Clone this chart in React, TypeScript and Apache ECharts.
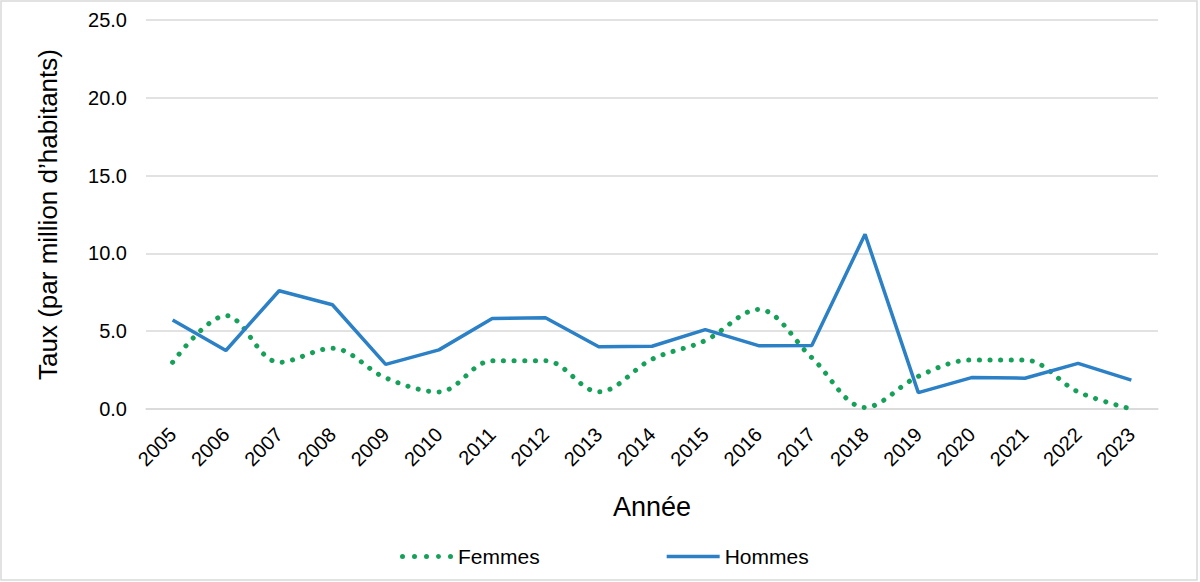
import React, { useEffect, useRef } from "react";
import * as echarts from "echarts";

const years = ["2005","2006","2007","2008","2009","2010","2011","2012","2013","2014","2015","2016","2017","2018","2019","2020","2021","2022","2023"];
const femmes = [3.0, 6.0, 3.0, 3.9, 2.0, 1.1, 3.1, 3.1, 1.1, 3.2, 4.4, 6.4, 3.3, 0.1, 2.1, 3.15, 3.15, 1.1, 0.0];
const hommes = [5.72, 3.76, 7.6, 6.7, 2.87, 3.8, 5.82, 5.86, 4.0, 4.03, 5.1, 4.07, 4.08, 11.23, 1.05, 2.02, 1.98, 2.93, 1.86];
const yTicks = { min: 0, max: 25, interval: 5 };

const GREEN = "#17a05a";
const BLUE = "#2b80c6";
const FONT = "Liberation Sans, Arial, sans-serif";

const dotsIcon =
  "path://" +
  [2.5, 14.5, 26.5, 38.5, 50.5]
    .map((c) => `M${c - 2.5},2.5a2.5,2.5 0 1,0 5,0a2.5,2.5 0 1,0 -5,0Z`)
    .join("");

export default function App() {
  const ref = useRef<HTMLDivElement>(null);
  useEffect(() => {
    if (!ref.current) return;
    const chart = echarts.init(ref.current, null, { renderer: "svg" });
    chart.setOption({
      animation: false,
      backgroundColor: "#ffffff",
      textStyle: { fontFamily: FONT },
      graphic: [
        {
          type: "rect",
          shape: { x: 1, y: 1, width: 1196, height: 579 },
          style: { fill: "none", stroke: "#d9d9d9", lineWidth: 1.5 },
          silent: true,
        },
      ],
      grid: { left: 146, right: 42, top: 20, bottom: 173, containLabel: false },
      legend: {
        top: 541,
        left: 395,
        itemWidth: 53,
        itemHeight: 5,
        itemGap: 127,
        textStyle: { fontSize: 21, color: "#000", fontFamily: FONT },
        data: [
          { name: "Femmes", icon: dotsIcon },
          { name: "Hommes", icon: "path://M0,0.5h53v3.5h-53Z" },
        ],
      },
      xAxis: {
        type: "category",
        data: years,
        boundaryGap: true,
        name: "Année",
        nameLocation: "middle",
        nameGap: 84,
        nameTextStyle: { fontSize: 27, color: "#000", fontFamily: FONT },
        axisLine: { show: true, lineStyle: { color: "#d9d9d9", width: 1.5 } },
        axisTick: { show: false },
        axisLabel: { rotate: 45, fontSize: 20, color: "#000", margin: 22, fontFamily: FONT, interval: 0 },
      },
      yAxis: {
        type: "value",
        min: yTicks.min,
        max: yTicks.max,
        interval: yTicks.interval,
        name: "Taux (par million d’habitants)",
        nameLocation: "middle",
        nameRotate: 90,
        nameGap: 85,
        nameTextStyle: { fontSize: 26, color: "#000", fontFamily: FONT },
        axisLine: { show: false },
        axisTick: { show: false },
        axisLabel: {
          fontSize: 20,
          color: "#000",
          margin: 19,
          fontFamily: FONT,
          formatter: (v: number) => v.toFixed(1),
        },
        splitLine: { lineStyle: { color: "#d9d9d9", width: 1.5 } },
      },
      series: [
        {
          name: "Femmes",
          type: "line",
          data: femmes,
          smooth: 0.35,
          symbol: "none",
          color: GREEN,
          lineStyle: { color: GREEN, width: 5, type: [0.1, 10.5], cap: "round" },
        },
        {
          name: "Hommes",
          type: "line",
          data: hommes,
          symbol: "none",
          color: BLUE,
          lineStyle: { color: BLUE, width: 3.5 },
        },
      ],
    });
    return () => chart.dispose();
  }, []);
  return (
    <div
      ref={ref}
      style={{ position: "fixed", left: 0, top: 0, width: 1200, height: 582 }}
    />
  );
}
